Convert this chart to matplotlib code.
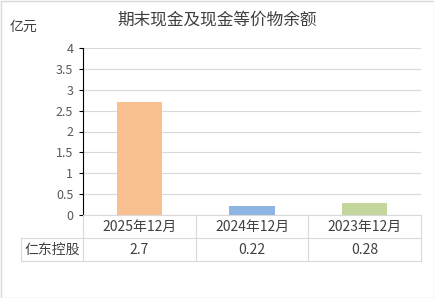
import matplotlib
matplotlib.use("Agg")
import matplotlib.pyplot as plt
from matplotlib.lines import Line2D
from matplotlib.patches import Rectangle

plt.rcParams['font.family'] = ['Noto Sans CJK SC', 'DejaVu Sans']

categories = ["2025年12月", "2024年12月", "2023年12月"]
values = [2.7, 0.22, 0.28]
value_labels = ["2.7", "0.22", "0.28"]
series_name = "仁东控股"
colors = ["#F9C08F", "#8EB4E3", "#C3D69B"]
yticks = [0, 0.5, 1, 1.5, 2, 2.5, 3, 3.5, 4]
ytick_labels = ["0", "0.5", "1", "1.5", "2", "2.5", "3", "3.5", "4"]

W, H = 434, 298
fig = plt.figure(figsize=(W/100, H/100), dpi=100)
fig.patches.append(Rectangle((0.5/W, 0.5/H), 1-1/W, 1-1/H, transform=fig.transFigure,
                             fill=False, edgecolor="#D9D9D9", linewidth=1))

x0, x1, ytop, ybot = 83, 421, 48, 215
ax = fig.add_axes([x0/W, 1-ybot/H, (x1-x0)/W, (ybot-ytop)/H])
xs = list(range(len(categories)))
ax.bar(xs, values, width=0.4, color=colors)
ax.set_xlim(-0.5, len(categories)-0.5)
ax.set_ylim(0, 4)
ax.set_yticks(yticks)
ax.set_yticklabels(ytick_labels, color="#595959", fontsize=9)
ax.set_xticks([])
ax.grid(axis='y', color="#D9D9D9", linewidth=0.8)
ax.set_axisbelow(True)
for s in ["top", "right"]:
    ax.spines[s].set_visible(False)
ax.spines["bottom"].set_color("#D9D9D9")
ax.spines["left"].set_color("black")
ax.spines["left"].set_linewidth(0.8)
ax.tick_params(axis='y', length=3, width=0.8, color="black", pad=4)

fig.text(217/W, 1-20/H, "期末现金及现金等价物余额", ha="center", va="center",
         fontsize=12, color="#404040")
fig.text(10/W, 1-27/H, "亿元", ha="left", va="center", fontsize=10, color="#404040")

# data table
lc = "#D9D9D9"
def fx(px): return px/W
def fy(py): return 1-py/H
r0, r1, r2 = 215, 238, 261
colw = (x1-x0)/len(categories)
for i in range(len(categories)+1):
    xx = x0 + i*colw
    fig.add_artist(Line2D([fx(xx), fx(xx)], [fy(r0), fy(r2)], color=lc, lw=0.8))
fig.add_artist(Line2D([fx(21), fx(21)], [fy(r1), fy(r2)], color=lc, lw=0.8))
fig.add_artist(Line2D([fx(21), fx(x1)], [fy(r1), fy(r1)], color=lc, lw=0.8))
fig.add_artist(Line2D([fx(21), fx(x1)], [fy(r2), fy(r2)], color=lc, lw=0.8))
for i, (c, v) in enumerate(zip(categories, value_labels)):
    cx = x0 + (i+0.5)*colw
    fig.text(fx(cx), fy((r0+r1)/2), c, ha="center", va="center", fontsize=10, color="#404040")
    fig.text(fx(cx), fy((r1+r2)/2), v, ha="center", va="center", fontsize=10, color="#404040")
fig.text(fx(52), fy((r1+r2)/2), series_name, ha="center", va="center", fontsize=10, color="#404040")

fig.savefig("out.png", dpi=100)
